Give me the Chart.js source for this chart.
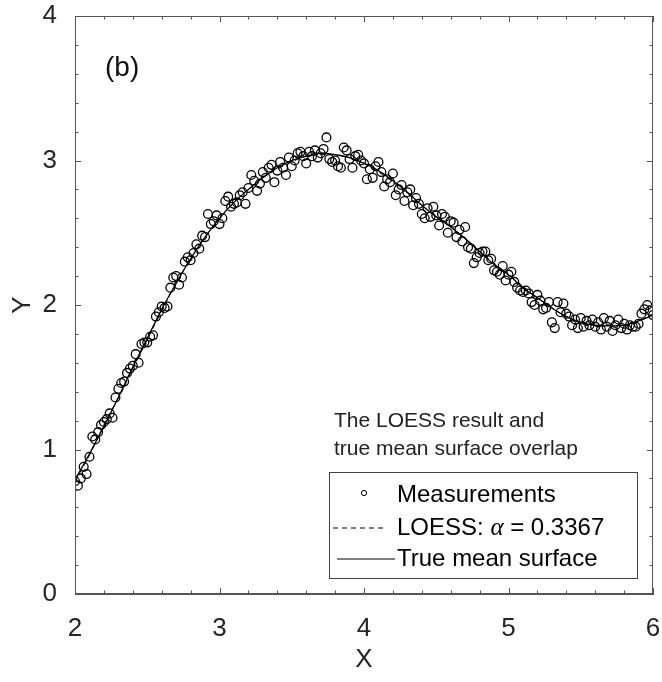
<!DOCTYPE html>
<html>
<head>
<meta charset="utf-8">
<title>LOESS fit (b)</title>
<script src="https://cdn.jsdelivr.net/npm/chart.js@4.4.1/dist/chart.umd.min.js"></script>
<style>
  html, body { margin: 0; padding: 0; background: #fff; }
  #wrap { width: 662px; height: 682px; }
</style>
</head>
<body>
<div id="wrap"><canvas id="chart" width="662" height="682"></canvas></div>
<script>
// Data

// axis ticks
const xTicks = [2, 3, 4, 5, 6];
const yTicks = [0, 1, 2, 3, 4];

// noisy measurements
const measX = [
  2.00, 2.02, 2.04, 2.06, 2.08, 2.10, 2.12, 2.14, 2.16, 2.18,
  2.20, 2.22, 2.24, 2.26, 2.28, 2.30, 2.32, 2.34, 2.36, 2.38,
  2.40, 2.42, 2.44, 2.46, 2.48, 2.50, 2.52, 2.54, 2.56, 2.58,
  2.60, 2.62, 2.64, 2.66, 2.68, 2.70, 2.72, 2.74, 2.76, 2.78,
  2.80, 2.82, 2.84, 2.86, 2.88, 2.90, 2.92, 2.94, 2.96, 2.98,
  3.00, 3.02, 3.04, 3.06, 3.08, 3.10, 3.12, 3.14, 3.16, 3.18,
  3.20, 3.22, 3.24, 3.26, 3.28, 3.30, 3.32, 3.34, 3.36, 3.38,
  3.40, 3.42, 3.44, 3.46, 3.48, 3.50, 3.52, 3.54, 3.56, 3.58,
  3.60, 3.62, 3.64, 3.66, 3.68, 3.70, 3.72, 3.74, 3.76, 3.78,
  3.80, 3.82, 3.84, 3.86, 3.88, 3.90, 3.92, 3.94, 3.96, 3.98,
  4.00, 4.02, 4.04, 4.06, 4.08, 4.10, 4.12, 4.14, 4.16, 4.18,
  4.20, 4.22, 4.24, 4.26, 4.28, 4.30, 4.32, 4.34, 4.36, 4.38,
  4.40, 4.42, 4.44, 4.46, 4.48, 4.50, 4.52, 4.54, 4.56, 4.58,
  4.60, 4.62, 4.64, 4.66, 4.68, 4.70, 4.72, 4.74, 4.76, 4.78,
  4.80, 4.82, 4.84, 4.86, 4.88, 4.90, 4.92, 4.94, 4.96, 4.98,
  5.00, 5.02, 5.04, 5.06, 5.08, 5.10, 5.12, 5.14, 5.16, 5.18,
  5.20, 5.22, 5.24, 5.26, 5.28, 5.30, 5.32, 5.34, 5.36, 5.38,
  5.40, 5.42, 5.44, 5.46, 5.48, 5.50, 5.52, 5.54, 5.56, 5.58,
  5.60, 5.62, 5.64, 5.66, 5.68, 5.70, 5.72, 5.74, 5.76, 5.78,
  5.80, 5.82, 5.84, 5.86, 5.88, 5.90, 5.92, 5.94, 5.96, 5.98,
  6.00
];
const measY = [
  0.78, 0.75, 0.80, 0.88, 0.83, 0.95, 1.09, 1.07, 1.12, 1.17,
  1.19, 1.21, 1.25, 1.22, 1.36, 1.42, 1.46, 1.47, 1.53, 1.56,
  1.58, 1.66, 1.60, 1.73, 1.74, 1.74, 1.78, 1.79, 1.92, 1.95,
  1.99, 1.98, 1.99, 2.12, 2.19, 2.20, 2.14, 2.19, 2.30, 2.33,
  2.31, 2.36, 2.42, 2.39, 2.48, 2.47, 2.63, 2.56, 2.58, 2.62,
  2.56, 2.60, 2.72, 2.75, 2.68, 2.70, 2.71, 2.76, 2.78, 2.70,
  2.81, 2.90, 2.86, 2.79, 2.84, 2.92, 2.88, 2.95, 2.97, 2.85,
  2.93, 2.99, 2.95, 2.90, 3.02, 2.96, 3.00, 3.05, 3.06, 3.03,
  2.98, 3.06, 3.03, 3.07, 3.02, 3.05, 3.08, 3.16, 3.01, 2.99,
  3.00, 2.96, 2.95, 3.09, 3.07, 3.01, 2.95, 3.03, 3.04, 3.00,
  2.98, 2.87, 2.94, 2.88, 2.96, 2.99, 2.92, 2.82, 2.87, 2.85,
  2.91, 2.76, 2.80, 2.83, 2.72, 2.78, 2.80, 2.69, 2.74, 2.70,
  2.63, 2.60, 2.67, 2.61, 2.68, 2.62, 2.55, 2.63, 2.61, 2.50,
  2.58, 2.57, 2.47, 2.52, 2.44, 2.54, 2.40, 2.39, 2.29, 2.33,
  2.36, 2.37, 2.37, 2.31, 2.32, 2.24, 2.23, 2.21, 2.27, 2.17,
  2.21, 2.23, 2.16, 2.12, 2.10, 2.09, 2.10, 2.08, 2.02, 2.00,
  2.07, 2.03, 1.97, 1.98, 2.02, 1.88, 1.84, 2.02, 1.95, 2.01,
  1.94, 1.92, 1.86, 1.90, 1.84, 1.91, 1.85, 1.89, 1.86, 1.90,
  1.85, 1.88, 1.83, 1.91, 1.85, 1.89, 1.82, 1.86, 1.90, 1.84,
  1.87, 1.83, 1.86, 1.85, 1.85, 1.87, 1.94, 1.97, 2.00, 1.96,
  1.93
];

// smooth curves
const curveX = [
  2.0, 2.1, 2.2, 2.3, 2.4, 2.5, 2.6, 2.7, 2.8, 2.9,
  3.0, 3.1, 3.2, 3.3, 3.4, 3.5, 3.6, 3.7, 3.8, 3.9,
  4.0, 4.1, 4.2, 4.3, 4.4, 4.5, 4.6, 4.7, 4.8, 4.9,
  5.0, 5.1, 5.2, 5.3, 5.4, 5.5, 5.6, 5.7, 5.8, 5.9,
  6.0
];
const trueY = [
  0.79, 0.97, 1.16, 1.36, 1.57, 1.77, 1.97, 2.15, 2.32, 2.47,
  2.60, 2.71, 2.80, 2.88, 2.95, 3.00, 3.03, 3.05, 3.04, 3.02,
  2.98, 2.93, 2.86, 2.78, 2.69, 2.61, 2.54, 2.46, 2.37, 2.28,
  2.21, 2.12, 2.05, 1.98, 1.92, 1.88, 1.86, 1.855, 1.86, 1.89,
  1.93
];
const loessY = [
  0.78, 0.96, 1.17, 1.36, 1.56, 1.76, 1.96, 2.15, 2.32, 2.47,
  2.60, 2.71, 2.80, 2.88, 2.94, 2.99, 3.03, 3.04, 3.04, 3.02,
  2.98, 2.92, 2.85, 2.77, 2.69, 2.61, 2.54, 2.46, 2.37, 2.29,
  2.21, 2.12, 2.05, 1.98, 1.92, 1.88, 1.86, 1.86, 1.86, 1.89,
  1.93
];

const legendLabels = ['Measurements', 'LOESS: ', 'True mean surface'];
const alphaValue = '0.3367';
const noteLines = ['The LOESS result and', 'true mean surface overlap'];

const FONT = "'Liberation Sans', Arial, Helvetica, sans-serif";
const AXIS_COLOR = '#555';
const TEXT_COLOR = '#262626';

function zipPoints(xs, ys) {
  return xs.map((x, i) => ({ x: x, y: ys[i] }));
}

// Ticks pointing inward on all four sides, plus box frame
const frameTicks = {
  id: 'frameTicks',
  afterDatasetsDraw(chart) {
    const ctx = chart.ctx;
    const a = chart.chartArea;
    const xs = chart.scales.x;
    const ys = chart.scales.y;
    ctx.save();
    ctx.strokeStyle = AXIS_COLOR;
    ctx.lineWidth = 1;
    // frame
    ctx.strokeRect(Math.round(a.left) + 0.5, Math.round(a.top) + 0.5,
      Math.round(a.right - a.left) - 1, Math.round(a.bottom - a.top) - 1);

    function drawX(v, len) {
      const px = Math.round(xs.getPixelForValue(v)) + 0.5;
      ctx.beginPath();
      ctx.moveTo(px, a.bottom);
      ctx.lineTo(px, a.bottom - len);
      ctx.moveTo(px, a.top);
      ctx.lineTo(px, a.top + len);
      ctx.stroke();
    }
    function drawY(v, len) {
      const py = Math.round(ys.getPixelForValue(v)) + 0.5;
      ctx.beginPath();
      ctx.moveTo(a.left, py);
      ctx.lineTo(a.left + len, py);
      ctx.moveTo(a.right, py);
      ctx.lineTo(a.right - len, py);
      ctx.stroke();
    }
    // minor ticks every 0.2
    for (let i = 0; i < xTicks.length - 1; i++) {
      for (let k = 1; k < 5; k++) drawX(xTicks[i] + k * 0.2, 3.5);
    }
    for (let i = 0; i < yTicks.length - 1; i++) {
      for (let k = 1; k < 5; k++) drawY(yTicks[i] + k * 0.2, 3.5);
    }
    xTicks.forEach(v => drawX(v, 6));
    yTicks.forEach(v => drawY(v, 6));
    ctx.restore();
  },
  afterDraw(chart) {
    const ctx = chart.ctx;
    const a = chart.chartArea;
    ctx.save();

    // "(b)" panel label
    ctx.fillStyle = '#111';
    ctx.font = '28px ' + FONT;
    ctx.textBaseline = 'middle';
    ctx.textAlign = 'left';
    ctx.fillText('(b)', a.left + 30, a.top + 52);

    // note above the legend
    ctx.font = '21px ' + FONT;
    ctx.fillStyle = '#222';
    ctx.fillText(noteLines[0], a.left + 259, a.top + 405);
    ctx.fillText(noteLines[1], a.left + 259, a.top + 433);

    // legend box
    const bx = a.right - 324, by = a.bottom - 122, bw = 308, bh = 106;
    ctx.fillStyle = '#fff';
    ctx.fillRect(bx, by, bw, bh);
    ctx.strokeStyle = '#444';
    ctx.lineWidth = 1;
    ctx.strokeRect(bx + 0.5, by + 0.5, bw, bh);

    const rows = [by + 23, by + 56, by + 87];
    const textX = bx + 68;
    ctx.strokeStyle = '#000';

    // marker
    ctx.beginPath();
    ctx.arc(bx + 35, rows[0] - 2, 2.6, 0, Math.PI * 2);
    ctx.stroke();
    // dashed
    ctx.setLineDash([5, 4]);
    ctx.beginPath();
    ctx.moveTo(bx + 4, rows[1]);
    ctx.lineTo(bx + 56, rows[1]);
    ctx.stroke();
    ctx.setLineDash([]);
    // solid
    ctx.beginPath();
    ctx.moveTo(bx + 8, rows[2]);
    ctx.lineTo(bx + 66, rows[2]);
    ctx.stroke();

    ctx.fillStyle = '#000';
    ctx.font = '24px ' + FONT;
    ctx.fillText(legendLabels[0], textX, rows[0]);
    ctx.fillText(legendLabels[1], textX, rows[1]);
    let w = ctx.measureText(legendLabels[1]).width;
    ctx.font = "italic 25px 'Liberation Serif', 'DejaVu Serif', serif";
    ctx.fillText('\u03b1', textX + w, rows[1]);
    w += ctx.measureText('\u03b1').width;
    ctx.font = '24px ' + FONT;
    ctx.fillText(' = ' + alphaValue, textX + w, rows[1]);
    ctx.fillText(legendLabels[2], textX, rows[2]);

    ctx.restore();
  }
};

const ctx = document.getElementById('chart').getContext('2d');
new Chart(ctx, {
  type: 'scatter',
  data: {
    datasets: [
      {
        label: 'True mean surface',
        data: zipPoints(curveX, trueY),
        showLine: true,
        borderColor: '#000',
        borderWidth: 1.3,
        pointRadius: 0,
        tension: 0.4,
        order: 1
      },
      {
        label: 'LOESS',
        data: zipPoints(curveX, loessY),
        showLine: true,
        borderColor: '#000',
        borderWidth: 1,
        borderDash: [5, 4],
        pointRadius: 0,
        tension: 0.4,
        order: 2
      },
      {
        label: 'Measurements',
        data: zipPoints(measX, measY),
        showLine: false,
        pointStyle: 'circle',
        pointRadius: 4.4,
        pointBorderWidth: 1.3,
        pointBorderColor: '#000',
        pointBackgroundColor: 'rgba(255,255,255,0)',
        order: 3
      }
    ]
  },
  options: {
    responsive: false,
    animation: false,
    devicePixelRatio: 1,
    layout: { padding: { top: 16, right: 9, left: 0, bottom: 0 } },
    plugins: {
      legend: { display: false },
      tooltip: { enabled: false }
    },
    scales: {
      x: {
        type: 'linear',
        min: 2,
        max: 6,
        afterBuildTicks: s => { s.ticks = xTicks.map(v => ({ value: v })); },
        afterFit: s => { s.height = 88; s.paddingLeft = 0; s.paddingRight = 0; },
        grid: { display: false },
        border: { display: true, color: AXIS_COLOR },
        ticks: {
          color: TEXT_COLOR,
          font: { family: FONT, size: 26 },
          padding: 11,
          maxRotation: 0
        },
        title: {
          display: true,
          text: 'X',
          color: TEXT_COLOR,
          font: { family: FONT, size: 26 },
          padding: { top: 0, bottom: 7 }
        }
      },
      y: {
        type: 'linear',
        min: 0,
        max: 4,
        afterBuildTicks: s => { s.ticks = yTicks.map(v => ({ value: v })); },
        afterFit: s => { s.width = 75; s.paddingTop = 0; s.paddingBottom = 0; },
        grid: { display: false },
        border: { display: true, color: AXIS_COLOR },
        ticks: {
          color: TEXT_COLOR,
          font: { family: FONT, size: 26 },
          padding: 10
        },
        title: {
          display: true,
          text: 'Y',
          color: TEXT_COLOR,
          font: { family: FONT, size: 26 },
          padding: { top: 7, bottom: 0 }
        }
      }
    }
  },
  plugins: [frameTicks]
});
</script>
</body>
</html>
